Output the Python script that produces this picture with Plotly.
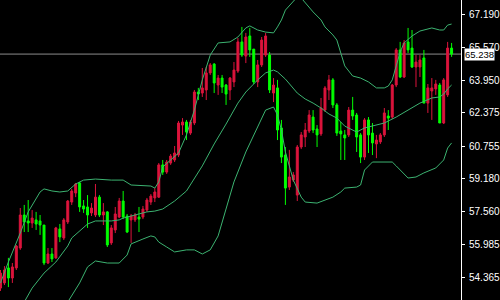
import plotly.graph_objects as go

opens = [53.84,54.09,54.82,54.33,54.82,55.79,57.40,57.11,57.01,57.16,
57.11,56.91,55.06,55.50,55.31,56.72,56.28,57.06,58.03,58.47,
58.96,57.84,57.79,57.50,57.40,58.27,57.40,57.55,56.04,56.67,
57.30,58.08,57.35,57.16,57.16,57.30,57.30,57.64,58.03,58.23,
58.27,59.84,59.49,59.93,60.08,60.32,61.78,61.93,61.39,61.88,
63.39,63.34,63.49,64.32,64.75,63.73,64.07,63.73,63.49,63.88,
64.41,65.83,65.14,66.12,65.48,63.88,64.71,65.19,65.19,63.34,
63.59,61.64,60.32,58.76,59.10,58.37,60.71,61.20,61.49,62.17,
61.59,61.35,62.51,63.49,63.98,62.76,61.49,61.30,61.30,62.51,
62.27,61.30,60.22,62.03,61.39,60.86,60.96,61.30,62.22,62.17,
63.73,65.44,64.12,65.83,65.53,64.61,64.61,65.05,62.85,63.44,
63.54,63.73,61.88,63.25,65.53]
highs = [54.72,54.91,55.31,55.06,55.94,57.74,57.89,58.13,57.64,57.55,
57.40,56.91,55.79,55.79,56.82,56.96,57.25,58.13,58.67,58.96,
59.01,58.13,58.37,57.98,58.91,58.37,57.98,57.59,56.91,57.79,
58.23,58.57,57.45,57.45,57.50,57.79,57.84,58.23,58.42,58.71,
59.93,60.08,60.08,60.37,60.76,61.98,62.12,62.03,62.03,63.49,
63.59,64.56,64.61,64.80,64.80,64.22,64.22,63.78,64.12,64.85,
66.02,66.56,66.27,66.51,65.48,64.95,66.07,66.27,65.34,64.07,
63.98,62.03,60.71,60.57,59.49,60.81,61.44,61.88,62.51,62.51,
61.78,63.10,63.68,64.22,64.07,62.85,61.93,61.54,62.66,63.15,
62.37,61.39,62.12,62.17,61.88,61.30,61.39,62.61,62.51,63.78,
65.53,65.83,65.92,66.51,66.41,65.19,65.19,65.44,63.78,64.07,
63.98,63.83,64.07,65.83,65.78]
lows = [53.70,53.99,53.89,54.09,54.72,55.70,56.57,56.57,56.77,56.67,
56.43,54.96,55.01,55.11,55.26,56.08,56.18,56.96,57.89,58.27,
57.55,57.50,56.77,57.35,57.30,57.30,56.91,55.84,55.94,56.52,
57.25,57.20,56.52,56.04,57.06,56.57,57.20,57.55,57.89,58.03,
58.23,59.35,59.40,59.84,59.98,60.22,61.30,61.05,61.30,61.78,
63.00,63.15,63.00,64.22,63.34,63.25,63.34,62.76,63.00,63.63,
64.32,65.10,64.80,65.10,63.78,63.63,64.61,65.10,63.34,62.90,
61.05,59.93,57.89,58.62,59.01,58.08,60.61,60.71,61.39,61.39,
60.71,61.25,62.42,63.00,62.61,61.25,60.08,60.08,61.20,62.03,
60.47,59.93,60.08,60.42,60.32,60.17,60.86,61.20,61.54,62.08,
63.63,64.07,64.07,65.29,64.56,63.63,64.12,62.85,62.37,62.03,
63.25,61.88,61.83,63.15,65.10]
closes = [54.57,54.72,54.33,54.87,55.89,57.40,57.06,57.01,57.25,56.96,
56.91,55.06,55.50,55.26,56.77,56.33,57.16,58.08,58.57,58.91,
57.79,57.69,57.40,57.74,58.27,57.40,57.55,55.94,56.77,57.45,
58.08,57.30,56.57,57.35,57.40,57.20,57.69,58.13,58.32,58.52,
59.84,59.49,59.98,60.27,60.42,61.88,61.93,61.44,61.93,63.39,
63.29,63.59,64.32,64.71,63.83,64.07,63.63,63.29,64.07,64.46,
65.83,65.19,66.07,65.44,63.88,64.71,65.92,66.12,63.49,63.73,
61.54,60.22,58.71,59.25,59.35,60.71,61.30,61.54,62.27,61.54,
61.30,62.61,63.59,63.98,62.76,61.39,61.35,61.15,62.51,62.22,
61.20,60.22,62.03,61.30,60.91,61.05,61.30,62.37,62.12,63.73,
65.44,64.12,65.78,65.44,64.61,64.85,64.95,62.85,63.59,63.59,
63.78,61.88,63.98,65.53,65.238]

upper_idx = [0,2,5,7,10,11,13,15,17,19,21,24,28,31,33,36,38,39,40,41,
43,45,47,49,51,53,55,58,60,62,63,65,67,69,70,71,72,74,75,76,
77,79,81,82,84,85,86,87,89,91,93,95,97,98,99,100,101,102,104,106,
109,111,112,113,114]
upper_val = [54.09,55.11,56.52,57.55,58.52,58.67,58.57,58.52,58.57,58.91,
59.10,59.15,59.10,59.10,58.86,58.81,58.81,58.71,59.01,59.74,
60.08,60.42,61.30,62.51,63.98,65.19,65.78,65.83,66.07,66.51,
66.61,66.41,66.31,66.27,66.56,66.90,67.38,67.82,68.02,67.97,
67.73,67.29,66.90,66.56,66.17,65.92,65.29,64.66,64.17,64.07,
63.88,63.59,63.59,63.68,63.98,64.61,65.34,65.78,66.12,66.36,
66.51,66.41,66.41,66.65,66.70]

mid_idx = [5,6,8,11,14,17,18,21,22,24,28,30,31,34,37,39,41,44,47,51,
54,57,60,62,65,67,69,70,72,75,77,79,81,83,85,87,90,92,95,97,
100,103,106,109,111,112,113,114]
mid_val = [52.77,53.16,53.84,54.57,55.11,55.89,56.28,56.82,56.96,57.11,
57.11,57.16,57.25,57.40,57.55,57.59,57.69,58.08,58.57,59.79,
60.86,61.83,62.85,63.39,63.98,64.32,64.46,64.37,64.02,63.34,
63.05,62.85,62.61,62.32,62.12,61.73,61.44,61.64,61.78,61.88,
62.17,62.51,62.85,63.10,63.15,63.29,63.54,63.73]

lower_idx = [17,18,20,22,24,27,30,32,33,36,38,39,40,42,44,47,49,51,53,55,
56,57,59,62,65,67,69,70,71,72,74,76,77,80,84,86,87,90,91,92,
94,99,100,102,103,105,107,110,112,113,114]
lower_val = [53.16,53.45,54.09,54.87,55.16,55.06,55.06,55.45,55.99,56.23,
56.38,56.33,56.08,55.84,55.60,55.70,55.70,55.50,55.70,56.38,
57.06,57.74,59.01,60.47,61.69,62.51,62.66,62.27,61.54,60.47,
59.10,58.27,58.03,57.98,58.27,58.52,58.71,58.76,58.86,59.59,
59.98,59.98,59.79,59.40,59.20,59.25,59.45,59.69,60.08,60.66,
60.91]

tick_vals = [67.190, 65.570, 63.950, 62.375, 60.755, 59.180, 57.560, 55.985, 54.365]
tick_text = ["67.190", "65.570", "63.950", "62.375", "60.755", "59.180", "57.560", "55.985", "54.365"]
current_price = 65.238

band_color = "#3CB371"
fig = go.Figure()
for xs, ys in [(upper_idx, upper_val), (mid_idx, mid_val), (lower_idx, lower_val)]:
    fig.add_trace(go.Scatter(x=xs, y=ys, mode="lines",
                             line=dict(color=band_color, width=1),
                             hoverinfo="skip", showlegend=False))

fig.add_trace(go.Candlestick(
    x=list(range(len(opens))), open=opens, high=highs, low=lows, close=closes,
    increasing=dict(line=dict(color="#DC143C", width=1), fillcolor="#DC143C"),
    decreasing=dict(line=dict(color="#00FF00", width=1), fillcolor="#00FF00"),
    whiskerwidth=0, showlegend=False))

fig.add_shape(type="line", xref="paper", yref="y", x0=0, x1=1.0,
              y0=current_price, y1=current_price,
              line=dict(color="#8C8C8C", width=1), layer="below")

fig.add_annotation(xref="paper", yref="y", x=1.073, y=current_price,
                   xanchor="right", yanchor="middle", text=f"{current_price:.3f}",
                   showarrow=False, bgcolor="white",
                   font=dict(color="black", size=9.5, family="Liberation Sans"),
                   borderpad=0)

fig.update_layout(
    width=500, height=300,
    margin=dict(l=0, r=34, t=0, b=0),
    paper_bgcolor="black", plot_bgcolor="black",
    xaxis=dict(range=[-0.125, 116.375], visible=False,
               rangeslider=dict(visible=False), fixedrange=True),
    yaxis=dict(range=[53.259, 67.872], side="right", showgrid=False,
               zeroline=False, showline=True, linecolor="white", linewidth=1,
               ticks="outside", ticklen=3, tickcolor="white",
               tickvals=tick_vals, ticktext=tick_text,
               tickfont=dict(color="white", size=10, family="Liberation Sans"),
               ticklabelstandoff=2),
    boxgap=0.3,
)

fig.write_html("out.html")
